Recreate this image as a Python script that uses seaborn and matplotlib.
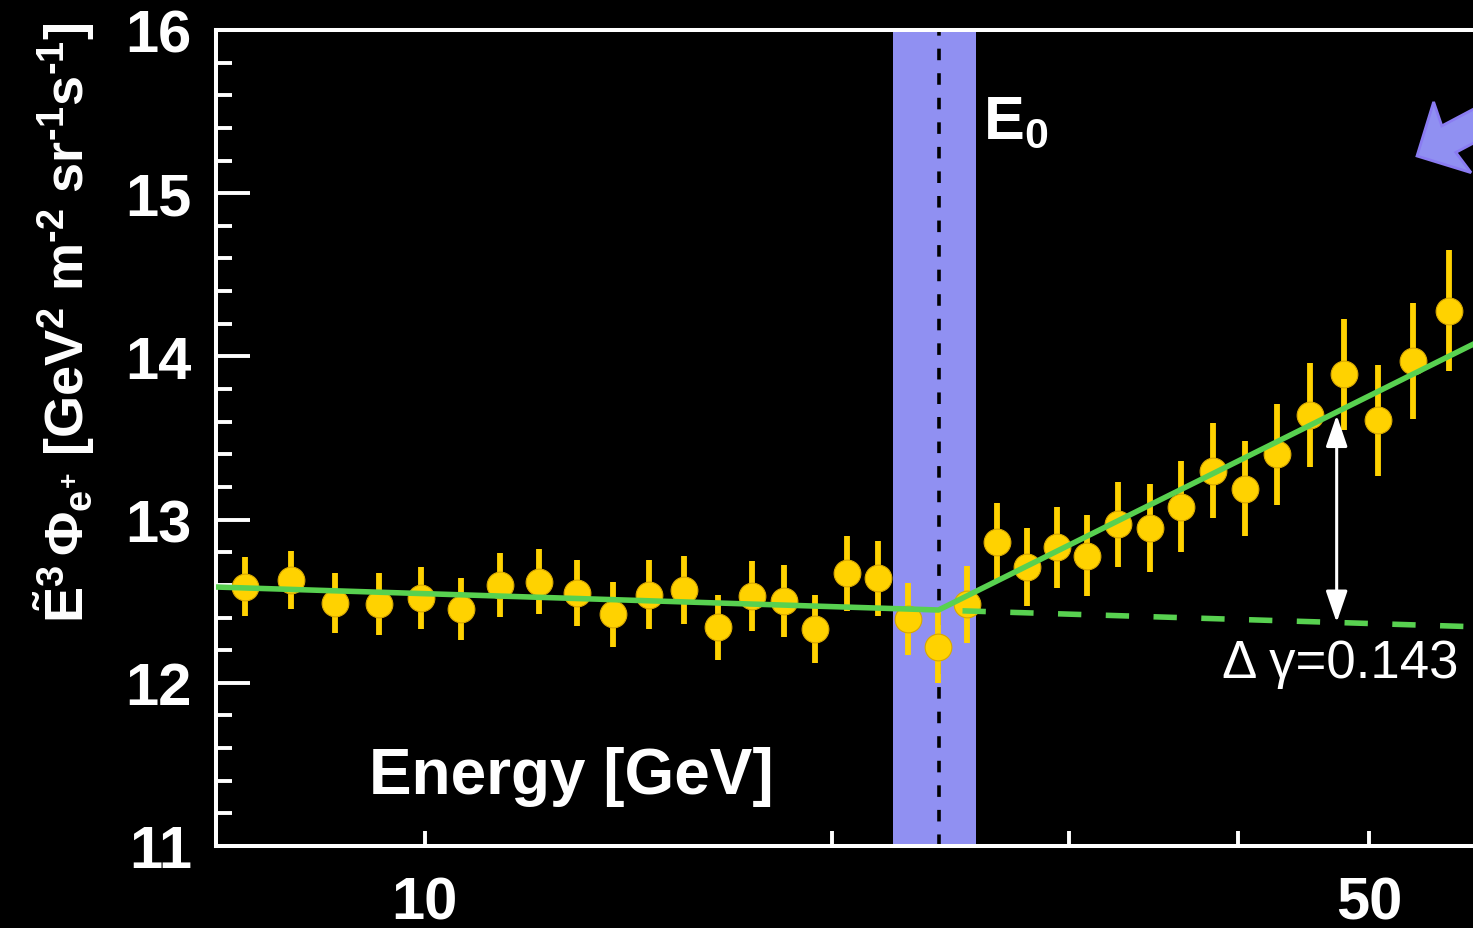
import matplotlib
matplotlib.use("Agg")
import matplotlib.pyplot as plt
import seaborn as sns
from matplotlib.patches import FancyArrow
from matplotlib.ticker import FixedLocator, FixedFormatter, MultipleLocator, NullLocator

# Positron flux (scaled by E^3) versus energy
energy = [7.36, 7.96, 8.58, 9.25, 9.94, 10.64, 11.37, 12.15, 12.96, 13.78,
          14.65, 15.55, 16.49, 17.45, 18.43, 19.46, 20.53, 21.63, 22.79, 23.99,
          25.20, 26.52, 27.91, 29.38, 30.92, 32.60, 34.39, 36.27, 38.30, 40.46,
          42.75, 45.22, 47.89, 50.75, 53.89, 57.28]
flux = [12.59, 12.63, 12.49, 12.48, 12.52, 12.45, 12.60, 12.62, 12.55, 12.42,
        12.54, 12.57, 12.34, 12.53, 12.50, 12.33, 12.67, 12.64, 12.39, 12.22,
        12.48, 12.86, 12.71, 12.83, 12.78, 12.97, 12.95, 13.08, 13.30, 13.19,
        13.40, 13.64, 13.89, 13.61, 13.97, 14.28]
flux_err = [0.18, 0.18, 0.185, 0.19, 0.19, 0.19, 0.195, 0.20, 0.20, 0.20,
            0.21, 0.21, 0.20, 0.215, 0.22, 0.21, 0.23, 0.23, 0.22, 0.22,
            0.235, 0.24, 0.24, 0.25, 0.25, 0.26, 0.27, 0.28, 0.29, 0.29,
            0.31, 0.32, 0.34, 0.34, 0.355, 0.37]

# Broken power-law fit and its extrapolation below the break
fit_energy = [7.0, 24.0, 60.0]
fit_flux = [12.587, 12.446, 14.084]
ext_energy = [25.0, 60.0]
ext_flux = [12.441, 12.343]

# Break energy and its uncertainty band
E0 = 24.0
E0_band = (22.2, 25.6)

# Spectral index change marker
delta_energy = 47.3
delta_low, delta_high = 12.37, 13.64
delta_gamma = 0.143

x_ticks = [10, 20, 30, 40, 50, 60]
x_tick_labels = ["10", "", "", "", "50", ""]

YELLOW = "#FFD200"
GREEN = "#58D150"
BAND = "#9090F2"

sns.set_theme(style="ticks", rc={
    "figure.facecolor": "black",
    "axes.facecolor": "black",
    "savefig.facecolor": "black",
    "axes.edgecolor": "white",
    "text.color": "white",
    "xtick.color": "white",
    "ytick.color": "white",
})
plt.rcParams["font.family"] = ["Liberation Sans", "DejaVu Sans"]
plt.rcParams["font.weight"] = "bold"
plt.rcParams["mathtext.fontset"] = "custom"
plt.rcParams["mathtext.rm"] = "Liberation Sans:bold"
plt.rcParams["mathtext.it"] = "Liberation Sans:bold"
plt.rcParams["mathtext.bf"] = "Liberation Sans:bold"
plt.rcParams["mathtext.sf"] = "Liberation Sans:bold"

W, H = 1473, 929
fig = plt.figure(figsize=(W / 100, H / 100), dpi=100)
x_left_px, x_right_px = 215.5, 1776.0
ax = fig.add_axes([x_left_px / W, (H - 847) / H,
                   (x_right_px - x_left_px) / W, (847 - 31) / H])
ax.set_xscale("log")
ax.set_xlim(7.0, 100.0)
ax.set_ylim(11, 16)

# Break band and dotted E0 line
ax.axvspan(*E0_band, color=BAND, lw=0, zorder=0.5)
ax.axvline(E0, color="black", lw=2.6, ls=(0, (3.2, 3.6)), zorder=1)

# Data points with error bars
ax.errorbar(energy, flux, yerr=flux_err, fmt="none", ecolor=YELLOW,
            elinewidth=4.2, capsize=0, zorder=2)
sns.scatterplot(x=energy, y=flux, ax=ax, s=370, color=YELLOW,
                edgecolor="#D8A800", linewidth=0.8, zorder=3, legend=False)

# Fit lines
sns.lineplot(x=fit_energy, y=fit_flux, ax=ax, color=GREEN, lw=4.0,
             zorder=4, legend=False, sort=False)
sns.lineplot(x=ext_energy, y=ext_flux, ax=ax, color=GREEN, lw=4.0,
             linestyle=(0, (4.2, 4.4)), zorder=4, legend=False, sort=False)

# Double-headed arrow between fit and extrapolation
ax.annotate("", xy=(delta_energy, delta_low), xytext=(delta_energy, delta_high),
            arrowprops=dict(arrowstyle="<|-|>,head_length=1.6,head_width=0.55",
                            color="white", lw=2.2, shrinkA=0, shrinkB=0),
            zorder=5)
ax.text(38.9, 12.036, "Δ γ=" + f"{delta_gamma:.3f}", color="white",
        fontsize=38, fontweight="normal", ha="left", va="baseline",
        family=["Liberation Sans", "DejaVu Sans"], zorder=5)

# Labels inside the plot
ax.text(25.9, 15.344, r"E$_{0}$", color="white", fontsize=44,
        ha="left", va="baseline", zorder=5)
ax.text(9.1, 11.325, "Energy [GeV]", color="white", fontsize=46,
        fontweight="bold", ha="left", va="baseline", zorder=5)

fig.text(64 / W, 1 - 323 / H,
         r"$\tilde{\mathrm{E}}^{3}\,\Phi_{e^{+}}$ [GeV$^{2}$ m$^{\text{-}2}$ "
         r"sr$^{\text{-}1}$s$^{\text{-}1}$]",
         rotation=90, ha="center", va="center", fontsize=39,
         fontweight="bold", color="white")

# Axes styling
for side in ("left", "bottom", "top", "right"):
    ax.spines[side].set_linewidth(2.9)
    ax.spines[side].set_color("white")

ax.xaxis.set_major_locator(FixedLocator(x_ticks))
ax.xaxis.set_major_formatter(FixedFormatter(x_tick_labels))
ax.xaxis.set_minor_locator(NullLocator())
ax.yaxis.set_major_locator(MultipleLocator(1))
ax.yaxis.set_minor_locator(MultipleLocator(0.2))
ax.tick_params(axis="x", which="major", direction="in", length=11, width=2.8,
               pad=21, labelsize=43, colors="white")
ax.tick_params(axis="y", which="major", direction="in", length=24.5, width=2.8,
               pad=17, labelsize=43, colors="white")
ax.tick_params(axis="y", which="minor", direction="in", length=11.5, width=2.8,
               colors="white")
for lab in ax.get_xticklabels() + ax.get_yticklabels():
    lab.set_fontweight("bold")
ax.set_xlabel("")
ax.set_ylabel("")

# Large pointer arrow entering from the upper right
tip = (14.17, 7.72)
ux, uy = 0.884, 0.468
length = 1.6
pointer = FancyArrow(tip[0] + length * ux, tip[1] + length * uy,
                     -length * ux, -length * uy, width=0.30, head_width=0.80,
                     head_length=0.40, overhang=0.1, length_includes_head=True,
                     facecolor=BAND, edgecolor="#8A7CF2", lw=2,
                     transform=fig.dpi_scale_trans, clip_on=False)
fig.add_artist(pointer)

fig.savefig("out.png", dpi=100)
